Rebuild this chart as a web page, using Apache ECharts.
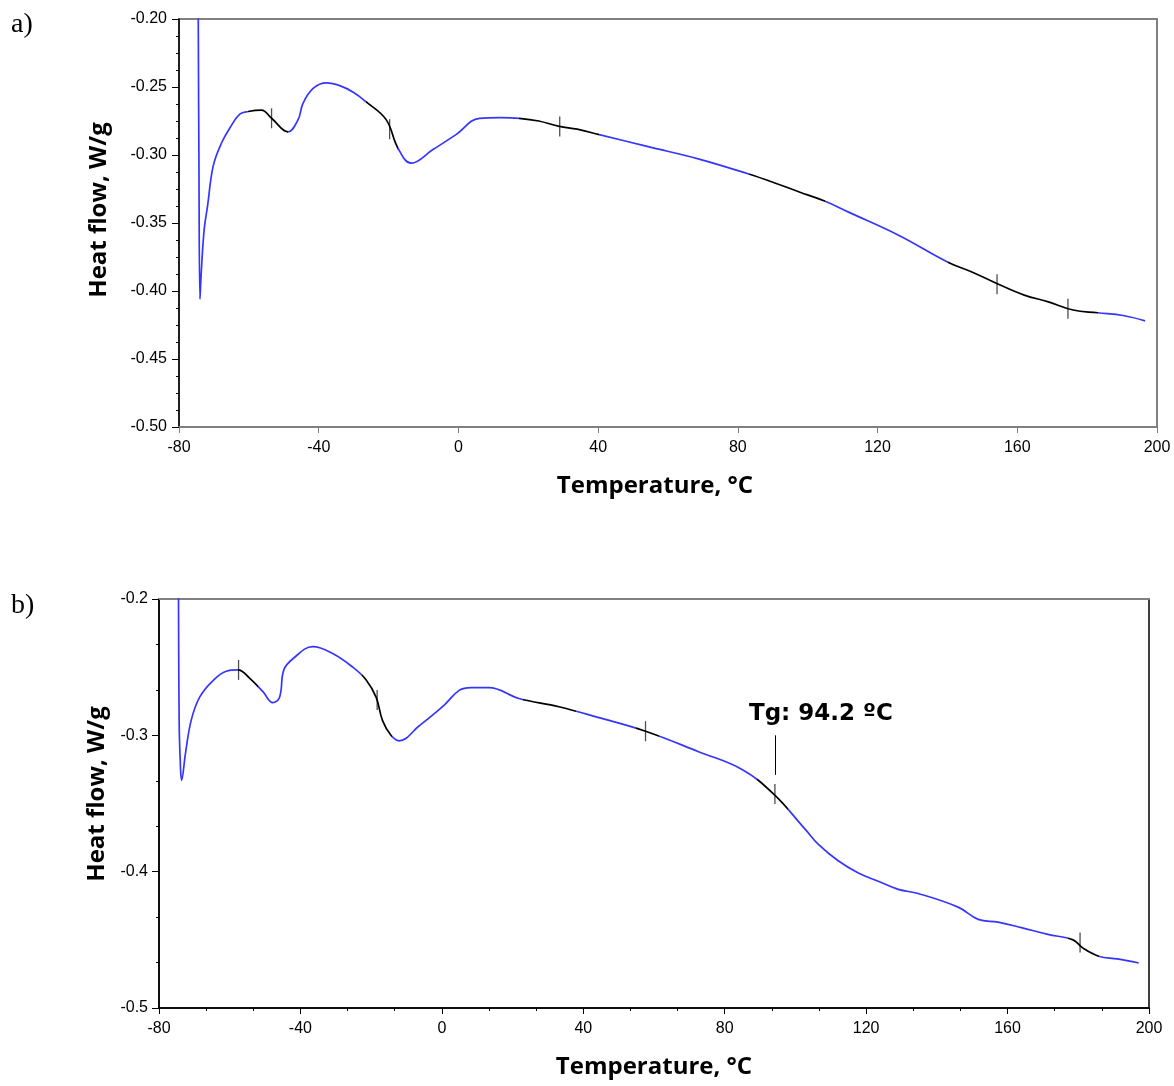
<!DOCTYPE html>
<html><head><meta charset="utf-8">
<script src="https://cdn.jsdelivr.net/npm/echarts@6/dist/echarts.min.js"></script>
<style>html,body{margin:0;padding:0;background:#fff}#c{width:1174px;height:1086px}</style>
</head><body><div id="c"></div>
<script>
// ---- Panel a) data ----
const tempA = [-74.5, -74.3, -74.0, -73.6, -72.8, -71.8, -70.2, -67.8, -65.4, -62.6, -60.2, -56.4, -53.5, -48.8, -45.9, -44.5, -41.6, -37.8, -34.0, -30.0, -26.4, -20.7, -17.3, -13.5, -7.3, -0.7, 6.0, 12.0, 17.4, 23.0, 28.9, 34.0, 40.3, 54.6, 68.9, 83.1, 90.0, 97.4, 105.0, 111.7, 126.0, 140.3, 147.0, 154.6, 162.0, 168.9, 176.0, 183.0, 190.3, 196.6];
const heatA = [-0.19, -0.30, -0.406, -0.385, -0.355, -0.337, -0.308, -0.291, -0.280, -0.270, -0.268, -0.267, -0.273, -0.283, -0.274, -0.262, -0.251, -0.247, -0.249, -0.254, -0.261, -0.274, -0.295, -0.306, -0.296, -0.285, -0.273, -0.2725, -0.273, -0.275, -0.279, -0.281, -0.285, -0.294, -0.303, -0.314, -0.320, -0.327, -0.334, -0.342, -0.359, -0.379, -0.386, -0.395, -0.403, -0.408, -0.414, -0.416, -0.418, -0.422];
const crossTempA = [-53.5, -19.7, 29.0, 154.2, 174.5];
const crossHeatA = [-0.273, -0.281, -0.279, -0.395, -0.413];
const blackRangesA = [[-60.2, -48.8], [-26.4, -17.3], [17.4, 40.3], [83.1, 105.0], [140.3, 183.0]];

// ---- Panel b) data ----
const tempB = [-74.5, -74.3, -74.0, -73.6, -72.5, -70.9, -68.5, -64.8, -61.0, -57.7, -54.4, -50.6, -47.8, -45.9, -44.7, -42.2, -36.5, -30.9, -25.2, -21.5, -18.6, -16.8, -14.4, -12.1, -6.4, 0.6, 4.9, 8.3, 13.3, 21.8, 33.1, 44.4, 57.6, 72.6, 84.9, 93.8, 102.8, 106.5, 112.1, 117.8, 123.4, 129.1, 134.7, 146.0, 151.7, 157.3, 163.9, 171.4, 178.5, 181.3, 185.8, 191.0, 197.1];
const heatB = [-0.19, -0.29, -0.318, -0.333, -0.313, -0.289, -0.272, -0.260, -0.253, -0.252, -0.258, -0.268, -0.276, -0.272, -0.252, -0.244, -0.235, -0.240, -0.250, -0.259, -0.272, -0.289, -0.300, -0.304, -0.293, -0.278, -0.267, -0.265, -0.265, -0.273, -0.279, -0.287, -0.297, -0.312, -0.325, -0.343, -0.369, -0.380, -0.392, -0.401, -0.407, -0.413, -0.416, -0.426, -0.435, -0.437, -0.441, -0.446, -0.450, -0.456, -0.462, -0.464, -0.467];
const crossTempB = [-57.5, -18.3, 57.6, 94.2, 180.5];
const crossHeatB = [-0.252, -0.274, -0.297, -0.343, -0.452];
const blackRangesB = [[-57.7, -52.0], [-22.5, -14.0], [23.0, 38.0], [55.0, 61.5], [89.0, 98.0], [177.0, 186.0]];
const tgTemp = 94.2;
const tgLeader = [-0.329, -0.300];
const tgLabel = 'Tg: 94.2 ºC';

// ---- Axes ----
const xTicks = [-80, -40, 0, 40, 80, 120, 160, 200];
const yTicksA = [-0.50, -0.45, -0.40, -0.35, -0.30, -0.25, -0.20];
const yTicksB = [-0.5, -0.4, -0.3, -0.2];
const xTitle = 'Temperature, °C';
const yTitle = 'Heat flow, W/g';
const panelLabels = ['a)', 'b)'];

const BLUE = '#3535ff';
const pairs = (xs, ys) => xs.map((x, i) => [x, ys[i]]);
const step = a => +(a[1] - a[0]).toFixed(4);
const lblFont = { fontFamily: 'Liberation Sans', fontSize: 16, color: '#000' };
const titleFont = { fontFamily: 'Open Sans', fontWeight: 'bold', fontSize: 24, color: '#000' };

const chart = echarts.init(document.getElementById('c'), null, { renderer: 'canvas' });
chart.setOption({
  animation: false,
  backgroundColor: '#fff',
  grid: [
    { left: 179, top: 19, width: 978, height: 408, show: true, borderColor: '#808080', borderWidth: 2, backgroundColor: 'transparent' },
    { left: 159, top: 599, width: 990, height: 409, show: true, borderColor: '#000', borderWidth: 1.5, backgroundColor: 'transparent' }
  ],
  xAxis: [
    { gridIndex: 0, type: 'value', min: xTicks[0], max: xTicks[xTicks.length - 1], interval: step(xTicks),
      axisLine: { show: true, onZero: false, lineStyle: { color: '#808080', width: 2 } },
      axisTick: { show: true, length: 6, lineStyle: { color: '#808080', width: 1 } },
      axisLabel: Object.assign({ margin: 13 }, lblFont),
      splitLine: { show: false },
      name: xTitle, nameLocation: 'middle', nameGap: 47,
      nameTextStyle: Object.assign({ padding: [0, 26, 0, 0] }, titleFont) },
    { gridIndex: 1, type: 'value', min: xTicks[0], max: xTicks[xTicks.length - 1], interval: step(xTicks),
      axisLine: { show: true, onZero: false, lineStyle: { color: '#000', width: 1.5 } },
      axisTick: { show: true, length: 6, lineStyle: { color: '#000', width: 1 } },
      minorTick: { show: true, splitNumber: 3, length: 3, lineStyle: { color: '#000', width: 1 } },
      axisLabel: Object.assign({ margin: 13 }, lblFont),
      splitLine: { show: false },
      name: xTitle, nameLocation: 'middle', nameGap: 47,
      nameTextStyle: titleFont },
    { gridIndex: 1, type: 'value', position: 'top', min: xTicks[0], max: xTicks[xTicks.length - 1],
      axisLine: { show: true, onZero: false, lineStyle: { color: '#808080', width: 2 } },
      axisTick: { show: false }, axisLabel: { show: false }, splitLine: { show: false } }
  ],
  yAxis: [
    { gridIndex: 0, type: 'value', min: yTicksA[0], max: yTicksA[yTicksA.length - 1], interval: step(yTicksA),
      axisLine: { show: true, onZero: false, lineStyle: { color: '#000', width: 1.5 } },
      axisTick: { show: true, length: 7, lineStyle: { color: '#000', width: 1 } },
      minorTick: { show: true, splitNumber: 4, length: 3, lineStyle: { color: '#000', width: 1 } },
      axisLabel: Object.assign({ margin: 12, formatter: v => v.toFixed(2) }, lblFont),
      splitLine: { show: false },
      name: yTitle, nameLocation: 'middle', nameGap: 68, nameRotate: 90,
      nameTextStyle: Object.assign({ padding: [0, 0, 0, 26] }, titleFont) },
    { gridIndex: 1, type: 'value', min: yTicksB[0], max: yTicksB[yTicksB.length - 1], interval: step(yTicksB),
      axisLine: { show: true, onZero: false, lineStyle: { color: '#000', width: 1.5 } },
      axisTick: { show: true, length: 7, lineStyle: { color: '#000', width: 1 } },
      minorTick: { show: true, splitNumber: 3, length: 3, lineStyle: { color: '#000', width: 1 } },
      axisLabel: Object.assign({ margin: 11, formatter: v => v.toFixed(1) }, lblFont),
      splitLine: { show: false },
      name: yTitle, nameLocation: 'middle', nameGap: 50, nameRotate: 90,
      nameTextStyle: Object.assign({ padding: [0, 0, 0, 19] }, titleFont) }
  ],
  visualMap: [
    { type: 'piecewise', show: false, seriesIndex: 0, dimension: 0,
      pieces: blackRangesA.map(r => ({ gte: r[0], lte: r[1], color: '#000' })),
      outOfRange: { color: BLUE } },
    { type: 'piecewise', show: false, seriesIndex: 2, dimension: 0,
      pieces: blackRangesB.map(r => ({ gte: r[0], lte: r[1], color: '#000' })),
      outOfRange: { color: BLUE } }
  ],
  series: [
    { type: 'line', xAxisIndex: 0, yAxisIndex: 0, data: pairs(tempA, heatA), showSymbol: false, symbol: 'none',
      smooth: 0.4, clip: true, lineStyle: { width: 1.7 } },
    { type: 'scatter', xAxisIndex: 0, yAxisIndex: 0, data: pairs(crossTempA, crossHeatA),
      symbol: 'rect', symbolSize: [1.3, 20], itemStyle: { color: '#222' }, silent: true },
    { type: 'line', xAxisIndex: 1, yAxisIndex: 1, data: pairs(tempB, heatB), showSymbol: false, symbol: 'none',
      smooth: 0.4, clip: true, lineStyle: { width: 1.7 },
      markLine: { silent: true, symbol: ['none', 'none'], animation: false,
        lineStyle: { color: '#000', width: 1, type: 'solid' }, label: { show: false },
        data: [[{ coord: [tgTemp, tgLeader[0]] }, { coord: [tgTemp, tgLeader[1]] }]] },
      markPoint: { silent: true, symbol: 'circle', symbolSize: 0, animation: false,
        data: [{ coord: [tgTemp, tgLeader[1]],
          label: { show: true, formatter: tgLabel, position: 'top', distance: 10, offset: [46, 0],
            fontFamily: 'DejaVu Sans', fontWeight: 'bold', fontSize: 23, color: '#000' } }] } },
    { type: 'scatter', xAxisIndex: 1, yAxisIndex: 1, data: pairs(crossTempB, crossHeatB),
      symbol: 'rect', symbolSize: [1.3, 20], itemStyle: { color: '#222' }, silent: true }
  ],
  graphic: [
    { type: 'text', left: 11, top: 11, style: { text: panelLabels[0], font: '28px "Liberation Serif"', fill: '#000' } },
    { type: 'text', left: 11, top: 592, style: { text: panelLabels[1], font: '28px "Liberation Serif"', fill: '#000' } }
  ]
});
</script>
</body></html>
